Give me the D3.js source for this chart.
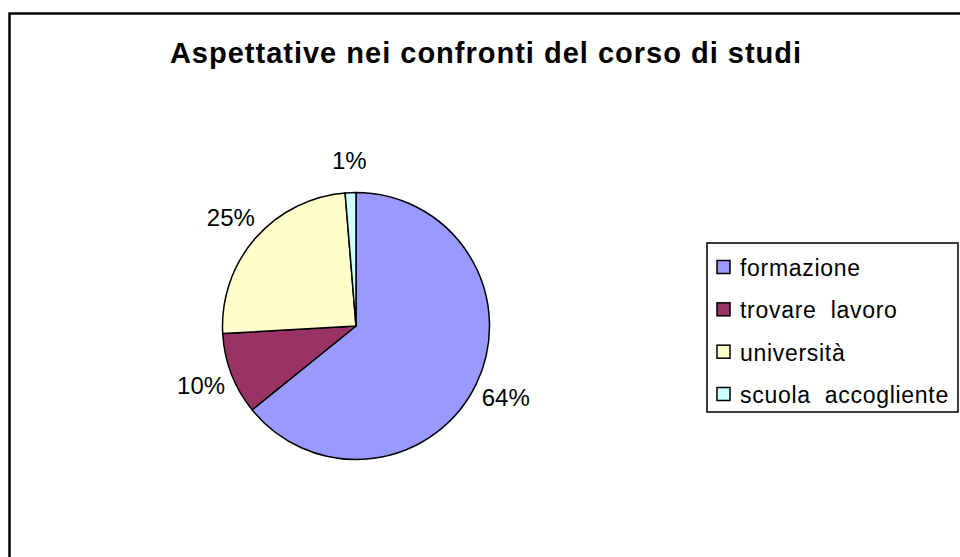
<!DOCTYPE html>
<html>
<head>
<meta charset="utf-8">
<script src="https://cdn.jsdelivr.net/npm/d3@7"></script>
<style>
  html, body { margin: 0; padding: 0; background: #fff; }
  svg { display: block; font-family: "Liberation Sans", Arial, sans-serif; }
</style>
</head>
<body>
<div id="chart"></div>
<script>
const categories = ['formazione', 'trovare  lavoro', 'università', 'scuola  accogliente'];
const values = [64.2, 9.9, 24.6, 1.3];
const colors = ['#9999FF', '#993366', '#FFFFCC', '#CCFFFF'];
const titleText = 'Aspettative nei confronti del corso di studi';

const width = 960, height = 557;
const center = { x: 356, y: 326 };
const radius = 133.5;
const labelRadius = 166;

const svg = d3.select('#chart')
  .append('svg')
  .attr('width', width)
  .attr('height', height);

// outer chart frame (right/bottom edges fall outside the picture)
svg.append('rect')
  .attr('x', 9.5).attr('y', 13.5)
  .attr('width', 1000).attr('height', 600)
  .attr('fill', 'none')
  .attr('stroke', '#000')
  .attr('stroke-width', 2.5);

svg.append('text')
  .attr('x', 486).attr('y', 63)
  .attr('text-anchor', 'middle')
  .attr('font-size', 29)
  .attr('font-weight', 'bold')
  .attr('letter-spacing', 1)
  .text(titleText);

const pieData = d3.pie().sort(null)(values);
const arc = d3.arc().innerRadius(0).outerRadius(radius);
const labelArc = d3.arc().innerRadius(labelRadius).outerRadius(labelRadius);
const total = d3.sum(values);

const g = svg.append('g').attr('transform', `translate(${center.x},${center.y})`);

g.selectAll('path.slice')
  .data(pieData)
  .join('path')
  .attr('class', 'slice')
  .attr('d', arc)
  .attr('fill', (d, i) => colors[i])
  .attr('stroke', '#000')
  .attr('stroke-width', 1.5)
  .attr('stroke-linejoin', 'round');

g.selectAll('text.pct')
  .data(pieData)
  .join('text')
  .attr('class', 'pct')
  .attr('transform', d => {
    const [x, y] = labelArc.centroid(d);
    return `translate(${x},${y})`;
  })
  .attr('text-anchor', 'middle')
  .attr('dominant-baseline', 'central')
  .attr('font-size', 24)
  .text(d => Math.round(d.data / total * 100) + '%');

// legend
const legend = svg.append('g');
legend.append('rect')
  .attr('x', 707).attr('y', 243)
  .attr('width', 251).attr('height', 169)
  .attr('fill', '#fff')
  .attr('stroke', '#000')
  .attr('stroke-width', 1.5);

const rowY = d3.scalePoint().domain(d3.range(categories.length)).range([267, 394]);

const rows = legend.selectAll('g.row')
  .data(categories)
  .join('g')
  .attr('class', 'row')
  .attr('transform', (d, i) => `translate(0,${rowY(i)})`);

rows.append('rect')
  .attr('x', 717).attr('y', -6.5)
  .attr('width', 13).attr('height', 13)
  .attr('fill', (d, i) => colors[i])
  .attr('stroke', '#000')
  .attr('stroke-width', 1.5);

rows.append('text')
  .attr('x', 740)
  .attr('y', 1)
  .attr('dominant-baseline', 'central')
  .attr('font-size', 23)
  .attr('letter-spacing', 0.7)
  .style('white-space', 'pre')
  .text(d => d);
</script>
</body>
</html>
